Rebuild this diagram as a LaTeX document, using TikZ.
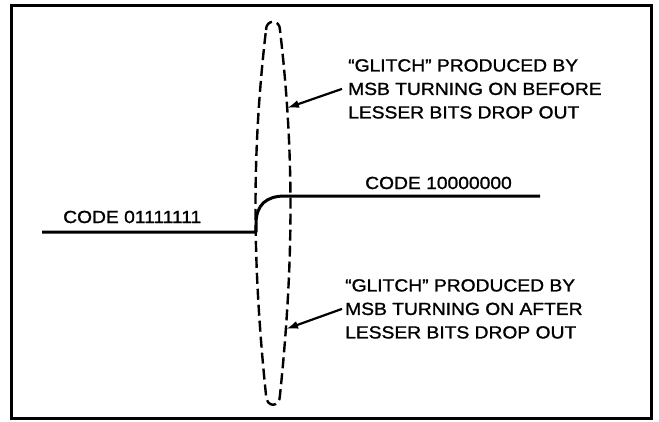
\documentclass[tikz,border=0pt]{standalone}
\usepackage{fontspec}
\newfontfamily\glitchfont[FakeStretch=1.1, FakeBold=1.2]{Liberation Sans}
\usetikzlibrary{arrows.meta, positioning, calc}

\begin{document}
\begin{tikzpicture}[
x=1pt, y=-1pt,
font=\glitchfont\fontsize{17.5}{23.5}\selectfont,
>={Latex[length=12pt,width=8pt]},
frame/.style={line width=3pt},
signal/.style={line width=3pt, line join=round},
envelope/.style={line width=2.4pt, dash pattern=on 11pt off 5pt},
lbl/.style={inner sep=0pt, align=left},
pointer/.style={->, line width=2.2pt}
]
\useasboundingbox (0,0) rectangle (659,421);

% Frame
\draw[frame] (11,5) rectangle (651,418);

% Nodes
\node[lbl, anchor=base west] (low) at (63,223) {CODE 01111111};
\node[lbl, anchor=base west] (high) at (365,189) {CODE 10000000};
\node[lbl, anchor=north west] (before) at (348,59)
{“GLITCH” PRODUCED BY\\MSB TURNING ON BEFORE\\LESSER BITS DROP OUT};
\node[lbl, anchor=north west] (after) at (345,279)
{“GLITCH” PRODUCED BY\\MSB TURNING ON AFTER\\LESSER BITS DROP OUT};
\coordinate (hitbefore) at (287,108);
\coordinate (hitafter) at (286,329);

% Code transition
\draw[signal] (42,232) -- (256,232) -- (256,224)
.. controls (256,205) and (266,196) .. (285,196) -- (540,196);

% Glitch envelope
\draw[envelope] (266,30) .. controls (266,19) and (280,19) .. (280,30)
.. controls (294,150) and (294,260) .. (280,395)
.. controls (280,408) and (266,408) .. (266,395)
.. controls (252,260) and (252,150) .. (266,30) -- cycle;

% Pointers
\draw[pointer] ([xshift=-6pt]before.west) -- (hitbefore);
\draw[pointer] ([xshift=-3pt]after.west) -- (hitafter);

\end{tikzpicture}
\end{document}
